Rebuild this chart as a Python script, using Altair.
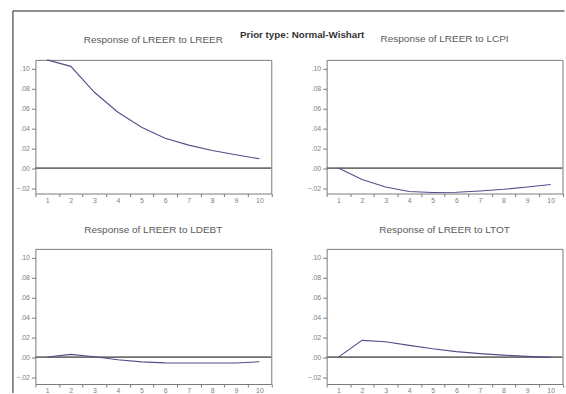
import altair as alt
import pandas as pd

# ---- data ----
periods = list(range(1, 11))
resp_lreer = [0.1085, 0.102, 0.076, 0.056, 0.041, 0.030, 0.023, 0.0177, 0.0133, 0.0093]
resp_lcpi = [0.000, -0.0115, -0.019, -0.0235, -0.0245, -0.0243, -0.023, -0.0213, -0.019, -0.0165]
resp_ldebt = [0.000, 0.0027, 0.0003, -0.0027, -0.0048, -0.0058, -0.006, -0.006, -0.006, -0.0047]
resp_ltot = [0.000, 0.0167, 0.0153, 0.0117, 0.0083, 0.0055, 0.0035, 0.002, 0.0007, -0.0003]
panel_titles = [
    "Response of LREER to LREER",
    "Response of LREER to LCPI",
    "Response of LREER to LDEBT",
    "Response of LREER to LTOT",
]
main_title = "Prior type: Normal-Wishart"
y_ticks = [-0.02, 0.0, 0.02, 0.04, 0.06, 0.08, 0.10]

FONT = "Liberation Sans"
LINE_COLOR = "#50508a"
ZERO_COLOR = "#707070"
FRAME_COLOR = "#7a7a7a"
W = 236.5


def panel(values, title_text, domain, height, title_offset, title_dy=0, border=False):
    df = pd.DataFrame({"period": periods, "response": values})
    base = alt.Chart(df)
    x = alt.X(
        "period:O",
        bandPosition=0.5,
        scale=alt.Scale(type="band", paddingInner=0, paddingOuter=0),
        axis=alt.Axis(title=None, labelAngle=0, tickBand="extent", tickSize=3,
                      labelPadding=0, labelFontSize=7, labelColor="#808080",
                      labelFont=FONT, tickColor=FRAME_COLOR, domain=False),
    )
    y_scale = alt.Scale(domain=domain, nice=False, zero=False)
    y_axis = alt.Axis(title=None, values=y_ticks, tickSize=4, labelPadding=2,
                      labelFontSize=7, labelColor="#808080", labelFont=FONT,
                      tickColor=FRAME_COLOR, domain=False, grid=False,
                      labelExpr="replace(format(datum.value, '.2f'), '0.', '.')")
    zero = alt.Chart(pd.DataFrame({"z": [0.0]})).mark_rule(
        color=ZERO_COLOR, strokeWidth=1.6
    ).encode(y=alt.Y("z:Q", scale=y_scale, axis=y_axis))
    line = base.mark_line(color=LINE_COLOR, strokeWidth=1.1).encode(
        x=x, y=alt.Y("response:Q", scale=y_scale, axis=y_axis)
    )
    layers = [zero, line]
    if border:
        one = pd.DataFrame({"a": [0]})
        top_b = alt.Chart(one).mark_rule(color="#222222", strokeWidth=1).encode(
            x=alt.value(-22.5), x2=alt.value(530.5), y=alt.value(-49))
        left_b = alt.Chart(one).mark_rule(color="#222222", strokeWidth=1).encode(
            x=alt.value(-22.5), y=alt.value(-49), y2=alt.value(334))
        layers += [top_b, left_b]
    return alt.layer(*layers).properties(
        width=W, height=height,
        title=alt.TitleParams(title_text, fontSize=10, font=FONT, color="#5a5a5a",
                              fontWeight="normal", offset=title_offset, dy=title_dy,
                              anchor="middle"),
    )


top_dom = [-0.0255, 0.1085]
bot_dom = [-0.027, 0.1085]
p1 = panel(resp_lreer, panel_titles[0], top_dom, 134, 15, title_dy=49.5, border=True)
p2 = panel(resp_lcpi, panel_titles[1], top_dom, 134, 16)
p3 = panel(resp_ldebt, panel_titles[2], bot_dom, 135.5, 13.5)
p4 = panel(resp_ltot, panel_titles[3], bot_dom, 135.5, 13.5)

chart = alt.concat(
    p1, p2, p3, p4, columns=2,
    spacing={"row": 55.5, "column": 55},
    bounds="flush",
).properties(
    title=alt.TitleParams(main_title, fontSize=9.8, font=FONT, fontWeight="bold",
                          color="#333333", anchor="middle", frame="bounds",
                          offset=0, dy=30, dx=13.5),
    padding={"left": 11.5, "top": 9.5, "right": 0, "bottom": 0},
).configure_view(stroke=FRAME_COLOR, strokeWidth=1)

chart.save("out.html", embed_options={"renderer": "svg", "actions": False})
